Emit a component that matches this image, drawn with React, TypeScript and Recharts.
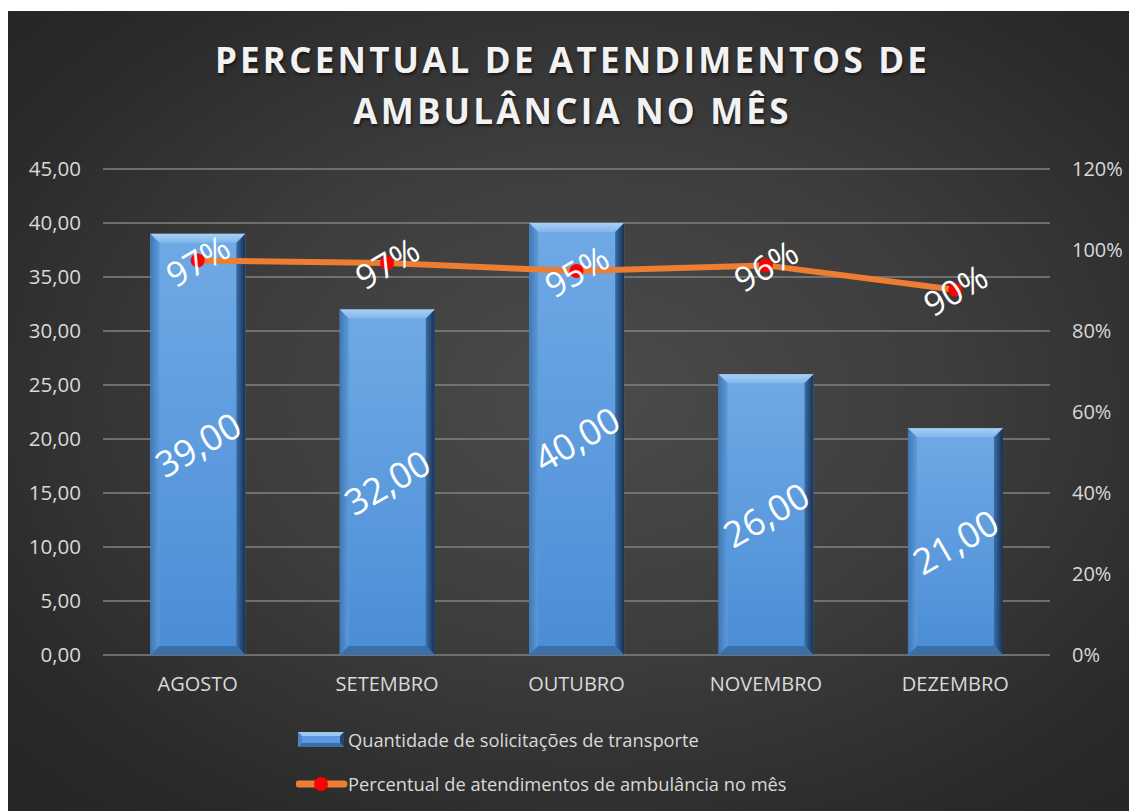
import React from 'react';
import {
  ComposedChart,
  Bar,
  Line,
  XAxis,
  YAxis,
  CartesianGrid,
  Legend,
  LabelList,
} from 'recharts';

const months = ['AGOSTO', 'SETEMBRO', 'OUTUBRO', 'NOVEMBRO', 'DEZEMBRO'];
const requests = [39, 32, 40, 26, 21];
const attendance = [0.974, 0.968, 0.948, 0.962, 0.902];
const leftTicks = [0, 5, 10, 15, 20, 25, 30, 35, 40, 45];
const rightTicks = [0, 0.2, 0.4, 0.6, 0.8, 1.0, 1.2];
const titleLines = ['PERCENTUAL DE ATENDIMENTOS DE', 'AMBULÂNCIA NO MÊS'];
const barSeriesName = 'Quantidade de solicitações de transporte';
const lineSeriesName = 'Percentual de atendimentos de ambulância no mês';

const data = months.map((m, i) => ({ month: m, qtd: requests[i], pct: attendance[i] }));

const FONT = '"Open Sans", "DejaVu Sans", sans-serif';
const W = 1129;
const H = 800;

const fmtNum = (v: number) => v.toFixed(2).replace('.', ',');
const fmtPct = (v: number) => `${Math.round(v * 100)}%`;

function BevelBar(props: any) {
  const { x, y, width: w, height: h } = props;
  if (!w || !h || h <= 0) return null;
  const b = Math.min(9, w / 2, h / 2);
  return (
    <g>
      <rect x={x} y={y} width={w} height={h} fill="url(#barMain)" />
      <polygon
        points={`${x},${y} ${x + w},${y} ${x + w - b},${y + b} ${x + b},${y + b}`}
        fill="url(#bevelTop)"
      />
      <polygon
        points={`${x},${y} ${x + b},${y + b} ${x + b},${y + h - b} ${x},${y + h}`}
        fill="url(#bevelLeft)"
      />
      <polygon
        points={`${x + w},${y} ${x + w},${y + h} ${x + w - b},${y + h - b} ${x + w - b},${y + b}`}
        fill="url(#bevelRight)"
      />
      <polygon
        points={`${x},${y + h} ${x + w},${y + h} ${x + w - b},${y + h - b} ${x + b},${y + h - b}`}
        fill="#3b6fa8"
      />
    </g>
  );
}

function BarLabel(props: any) {
  const { x, y, width, height, value } = props;
  const cx = x + width / 2;
  const cy = y + height / 2;
  return (
    <text
      x={cx}
      y={cy}
      transform={`rotate(-30, ${cx}, ${cy})`}
      textAnchor="middle"
      dominantBaseline="central"
      fill="#ffffff"
      style={{ fontFamily: FONT, fontSize: 36 }}
    >
      {fmtNum(Number(value))}
    </text>
  );
}

function LineLabel(props: any) {
  const { x, y, value } = props;
  return (
    <text
      x={x}
      y={y}
      transform={`rotate(-30, ${x}, ${y})`}
      textAnchor="middle"
      dominantBaseline="central"
      fill="#ffffff"
      style={{ fontFamily: FONT, fontSize: 34 }}
    >
      {fmtPct(Number(value))}
    </text>
  );
}

function LegendContent() {
  const row: React.CSSProperties = {
    position: 'relative',
    height: 44,
    display: 'flex',
    alignItems: 'center',
  };
  const txt: React.CSSProperties = {
    position: 'absolute',
    left: 52,
    fontFamily: FONT,
    fontSize: 18.3,
    color: '#d9d9d9',
    whiteSpace: 'nowrap',
    lineHeight: '44px',
    top: 0,
  };
  return (
    <div style={{ width: 540 }}>
      <div style={row}>
        <svg width={50} height={16} style={{ position: 'absolute', left: 2, top: 14 }}>
          <rect x={0} y={0} width={46} height={15} fill="#5d9be0" />
          <polygon points="0,0 46,0 42,4 4,4" fill="#9cc8f2" />
          <polygon points="46,0 46,15 42,11 42,4" fill="#22476f" />
          <polygon points="0,15 46,15 42,11 4,11" fill="#3b6fa8" />
          <polygon points="0,0 4,4 4,11 0,15" fill="#4b86c6" />
        </svg>
        <span style={txt}>{barSeriesName}</span>
      </div>
      <div style={row}>
        <svg width={52} height={20} style={{ position: 'absolute', left: 0, top: 12 }}>
          <line x1={3} y1={10} x2={48} y2={10} stroke="#ed7d31" strokeWidth={7} strokeLinecap="round" />
          <circle cx={25} cy={10} r={7} fill="#ff0000" />
        </svg>
        <span style={txt}>{lineSeriesName}</span>
      </div>
    </div>
  );
}

export default function App() {
  return (
    <div style={{ position: 'relative', width: W, height: H, marginTop: 3 }}>
      <div
        style={{
          position: 'absolute',
          left: -3,
          top: -11,
          width: 2,
          height: 811,
          background: '#000',
        }}
      />
      <div
        style={{
          position: 'absolute',
          left: 0,
          top: 0,
          width: W,
          height: H,
          background:
            'radial-gradient(ellipse 70% 70% at 52% 48%, #4b4b4b 0%, #3d3d3d 45%, #2a2a2a 85%, #262626 100%)',
        }}
      />
      <div
        style={{
          position: 'absolute',
          left: 0,
          top: 23,
          width: W,
          textAlign: 'center',
          fontFamily: FONT,
          fontWeight: 700,
          fontSize: 35,
          lineHeight: '51px',
          letterSpacing: 3.2,
          color: '#f2f2f2',
          textShadow: '1px 2px 3px rgba(0,0,0,0.6)',
          zIndex: 2,
        }}
      >
        {titleLines.map((t) => (
          <div key={t}>{t}</div>
        ))}
      </div>
      <div style={{ position: 'absolute', left: 0, top: 0 }}>
        <ComposedChart
          width={W}
          height={H}
          data={data}
          margin={{ top: 158, right: 0, left: 0, bottom: 126 }}
          barCategoryGap="25%"
        >
          <defs>
            <linearGradient id="barMain" x1="0" y1="0" x2="0" y2="1">
              <stop offset="0%" stopColor="#70aae5" />
              <stop offset="100%" stopColor="#4a8dd6" />
            </linearGradient>
            <linearGradient id="bevelTop" x1="0" y1="0" x2="0" y2="1">
              <stop offset="0%" stopColor="#a9d0f5" />
              <stop offset="100%" stopColor="#80b6ec" />
            </linearGradient>
            <linearGradient id="bevelLeft" x1="0" y1="0" x2="1" y2="0">
              <stop offset="0%" stopColor="#3f78b6" />
              <stop offset="100%" stopColor="#5d9ad9" />
            </linearGradient>
            <linearGradient id="bevelRight" x1="0" y1="0" x2="1" y2="0">
              <stop offset="0%" stopColor="#3a6ea8" />
              <stop offset="100%" stopColor="#17304f" />
            </linearGradient>
          </defs>
          <CartesianGrid
            yAxisId="left"
            vertical={false}
            stroke="#828282"
            strokeWidth={1.5}
          />
          <XAxis
            dataKey="month"
            axisLine={false}
            tickLine={false}
            tickMargin={16}
            height={30}
            interval={0}
            tick={{ fill: '#d9d9d9', fontSize: 20, fontFamily: FONT }}
          />
          <YAxis
            yAxisId="left"
            orientation="left"
            domain={[0, 45]}
            ticks={leftTicks}
            width={95}
            axisLine={false}
            tickLine={false}
            tickMargin={16}
            tickFormatter={fmtNum}
            tick={{ fill: '#d9d9d9', fontSize: 20.5, fontFamily: FONT }}
          />
          <YAxis
            yAxisId="right"
            orientation="right"
            domain={[0, 1.2]}
            ticks={rightTicks}
            width={87}
            axisLine={false}
            tickLine={false}
            tickMargin={16}
            tickFormatter={fmtPct}
            tick={{ fill: '#d9d9d9', fontSize: 20, fontFamily: FONT, textAnchor: 'start' }}
          />
          <Legend
            layout="vertical"
            align="center"
            verticalAlign="middle"
            content={<LegendContent />}
            wrapperStyle={{ left: 288, top: 707, width: 560, height: 88 }}
          />
          <Bar
            yAxisId="left"
            dataKey="qtd"
            name={barSeriesName}
            shape={<BevelBar />}
            isAnimationActive={false}
          >
            <LabelList dataKey="qtd" content={<BarLabel />} />
          </Bar>
          <Line
            yAxisId="right"
            dataKey="pct"
            name={lineSeriesName}
            type="linear"
            stroke="#ed7d31"
            strokeWidth={6}
            dot={{ r: 7, fill: '#ff0000', stroke: 'none' }}
            activeDot={false}
            isAnimationActive={false}
          >
            <LabelList dataKey="pct" content={<LineLabel />} />
          </Line>
        </ComposedChart>
      </div>
    </div>
  );
}
